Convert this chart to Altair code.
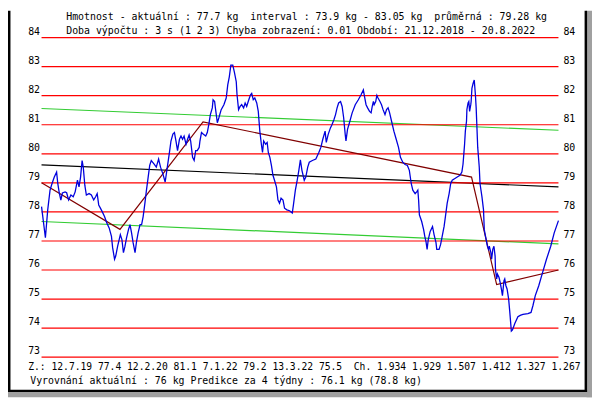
import altair as alt
import pandas as pd

# ---- blue series: day offset since 21.12.2018, weight in kg ----
day_offset = [
    0, 10, 16, 22, 27, 33, 39, 42, 46, 50,
    54, 61, 65, 70, 76, 82, 87, 93, 97, 101,
    105, 108, 112, 116, 123, 129, 135, 140, 144, 148,
    152, 157, 163, 169, 175, 181, 184, 189, 192, 197,
    204, 208, 212, 216, 220, 225, 229, 233, 237, 242,
    246, 250, 255, 259, 263, 267, 271, 276, 280, 284,
    291, 297, 303, 308, 314, 320, 325, 331, 335, 340,
    344, 348, 352, 357, 361, 365, 369, 374, 378, 382,
    386, 391, 395, 399, 403, 408, 410, 414, 419, 425,
    429, 433, 437, 442, 444, 448, 450, 455, 459, 465,
    472, 478, 482, 486, 490, 495, 499, 504, 506, 510,
    514, 518, 523, 527, 531, 535, 538, 541, 544, 548,
    552, 557, 561, 565, 569, 572, 575, 580, 584, 587,
    591, 595, 599, 603, 608, 612, 616, 620, 625, 629,
    635, 642, 649, 652, 657, 661, 666, 670, 674, 680,
    684, 689, 693, 701, 710, 718, 723, 728, 734, 737,
    742, 748, 752, 757, 761, 765, 769, 774, 778, 782,
    786, 788, 792, 797, 804, 812, 820, 827, 833, 836,
    840, 844, 849, 853, 856, 859, 861, 865, 868, 871,
    876, 880, 884, 889, 893, 897, 901, 906, 912, 918,
    924, 929, 935, 941, 947, 952, 957, 961, 967, 971,
    974, 976, 978, 984, 989, 992, 995, 998, 1001, 1006,
    1012, 1016, 1021, 1023, 1029, 1033, 1037, 1042, 1046, 1050,
    1055, 1059, 1063, 1069, 1076, 1083, 1088, 1091, 1093, 1095,
    1097, 1100, 1101, 1104, 1106, 1108, 1111, 1112, 1114, 1117,
    1120, 1123, 1125, 1127, 1129, 1133, 1135, 1140, 1144, 1146,
    1150, 1154, 1157, 1159, 1163, 1165, 1168, 1171, 1174, 1175,
    1178, 1180, 1184, 1187, 1191, 1193, 1197, 1199, 1202, 1205,
    1209, 1212, 1216, 1219, 1225, 1233, 1239, 1246, 1259, 1267,
    1272, 1278, 1287, 1297, 1307, 1318, 1327, 1338,
]
weight_kg = [
    78.18, 77.11, 78.07, 78.75, 78.97, 79.20, 79.37, 78.98, 78.65, 78.41,
    78.65, 78.69, 78.66, 78.41, 78.58, 78.52, 78.69, 79.09, 78.86, 79.20,
    79.77, 79.54, 78.92, 78.58, 78.63, 78.58, 78.41, 78.52, 78.63, 78.24,
    78.14, 78.01, 77.84, 77.62, 77.45, 77.16, 76.77, 76.37, 76.48, 76.82,
    77.22, 77.05, 76.60, 76.82, 77.11, 77.39, 77.56, 77.28, 76.94, 76.60,
    76.99, 77.28, 77.56, 77.56, 77.84, 78.24, 78.69, 79.20, 79.60, 79.77,
    79.65, 79.54, 79.82, 79.54, 79.31, 79.03, 79.49, 80.04, 80.44, 80.68,
    80.73, 80.44, 80.11, 80.50, 80.61, 80.50, 80.61, 80.33, 80.50, 80.65,
    80.44, 79.88, 79.77, 80.11, 80.11, 80.22, 80.44, 80.73, 80.67, 80.61,
    80.73, 81.01, 81.35, 81.58, 81.86, 81.80, 81.58, 81.07, 81.24, 81.52,
    81.69, 81.92, 82.37, 82.65, 83.05, 83.05, 82.82, 82.48, 82.03, 81.52,
    81.63, 81.69, 81.58, 81.75, 81.63, 81.80, 81.92, 82.03, 82.08, 81.86,
    81.92, 81.75, 81.46, 80.78, 80.33, 80.05, 80.44, 80.33, 80.39, 80.05,
    79.88, 79.60, 79.26, 79.09, 78.86, 78.41, 78.30, 78.47, 78.41, 78.13,
    78.07, 78.04, 77.96, 78.24, 78.75, 79.03, 79.43, 79.79, 79.43, 79.09,
    79.20, 79.54, 79.71, 79.77, 79.82, 80.05, 80.22, 80.50, 80.78, 80.39,
    80.67, 80.90, 81.01, 81.18, 81.35, 81.58, 81.75, 81.80, 81.63, 81.24,
    80.67, 80.44, 80.84, 81.07, 81.41, 81.69, 81.86, 82.03, 82.20, 81.97,
    81.69, 81.58, 81.46, 81.41, 81.63, 81.80, 81.69, 81.80, 82.01, 81.92,
    81.80, 81.69, 81.52, 81.35, 81.52, 81.58, 81.41, 81.12, 80.78, 80.50,
    80.22, 79.88, 79.71, 79.63, 79.60, 79.43, 78.97, 78.75, 78.63, 78.69,
    78.75, 78.41, 77.90, 77.67, 77.39, 77.16, 76.99, 76.71, 77.05, 77.33,
    77.50, 77.22, 76.94, 76.71, 76.71, 76.88, 77.16, 77.50, 77.90, 78.30,
    78.63, 78.97, 79.09, 79.14, 79.20, 79.26, 79.37, 79.65, 79.99, 80.33,
    80.78, 81.12, 81.52, 81.75, 81.80, 81.46, 81.69, 81.80, 82.25, 82.42,
    82.54, 82.03, 81.58, 80.90, 80.22, 79.54, 78.97, 78.52, 78.07, 77.39,
    77.11, 76.82, 76.71, 76.82, 76.60, 76.37, 76.71, 76.82, 76.48, 76.03,
    75.69, 75.86, 75.75, 75.58, 75.29, 75.12, 75.63, 75.69, 75.46, 75.35,
    75.01, 74.56, 73.90, 73.94, 74.16, 74.39, 74.44, 74.47, 74.50, 74.54,
    74.78, 75.12, 75.46, 75.92, 76.37, 76.82, 77.28, 77.70,
]

# ---- regression / band lines (start and end of period) ----
trend_day = [0, 1338]
band_upper = [81.56, 80.81]
band_lower = [77.67, 76.90]
mean_trend = [79.62, 78.86]

# ---- smoothed zig-zag (Z.: vertices) ----
zig_day = [0, 203, 418, 1113, 1178, 1338]
zig_kg = [79.0, 77.4, 81.1, 79.2, 75.5, 76.0]

# ---- horizontal grid / axis labels ----
grid_kg = list(range(73, 85))
grid_labels = [str(v) for v in grid_kg]

def keep_spaces(s):
    return s.replace("  ", " \u00a0")

line1 = keep_spaces("Hmotnost - aktuální : 77.7 kg  interval : 73.9 kg - 83.05 kg  průměrná : 79.28 kg")
line2 = "Doba výpočtu : 3 s (1 2 3) Chyba zobrazení: 0.01 Období: 21.12.2018 - 20.8.2022"
line3 = keep_spaces("Z.: 12.7.19 77.4 12.2.20 81.1 7.1.22 79.2 13.3.22 75.5  Ch. 1.934 1.929 1.507 1.412 1.327 1.267")
line4 = "Vyrovnání aktuální : 76 kg Predikce za 4 týdny : 76.1 kg (78.8 kg)"

FONT = "DejaVu Sans Mono"

xs = alt.Scale(domain=[0, 1338], range=[34, 558], nice=False, zero=False)
ys = alt.Scale(domain=[73, 84], range=[351.3, 27.3], nice=False, zero=False)

X = alt.X("day:Q", scale=xs, axis=None)
Y = alt.Y("kg:Q", scale=ys, axis=None)

def series(days, vals, color, width):
    df = pd.DataFrame({"day": days, "kg": vals})
    return alt.Chart(df).mark_line(color=color, strokeWidth=width).encode(x=X, y=Y)

grid_df = pd.DataFrame({"kg": grid_kg, "label": grid_labels})
dummy = pd.DataFrame({"a": [0]})

def rect(x1, x2, y1, y2, color):
    return alt.Chart(dummy).mark_rect(color=color).encode(
        x=alt.value(x1), x2=alt.value(x2), y=alt.value(y1), y2=alt.value(y2))

def text_line(s, x, y, size):
    return alt.Chart(pd.DataFrame({"t": [s]})).mark_text(
        align="left", baseline="alphabetic", font=FONT, fontSize=size, color="black"
    ).encode(x=alt.value(x), y=alt.value(y), text="t:N")

green_u = series(trend_day, band_upper, "#33cc33", 1.2)
green_l = series(trend_day, band_lower, "#33cc33", 1.2)
black_l = series(trend_day, mean_trend, "#000000", 1.2)

grid = alt.Chart(grid_df).mark_rule(color="#ff0000", strokeWidth=1.2).encode(
    y=Y, x=alt.value(34), x2=alt.value(558))

left_lab = alt.Chart(grid_df).mark_text(
    align="right", baseline="alphabetic", dy=-3, font=FONT, fontSize=10, color="black"
).encode(y=Y, x=alt.value(32.5), text="label:N")
right_lab = alt.Chart(grid_df).mark_text(
    align="left", baseline="alphabetic", dy=-3, font=FONT, fontSize=10, color="black"
).encode(y=Y, x=alt.value(563), text="label:N")

zig = series(zig_day, zig_kg, "#800000", 1.2)
blue = series(day_offset, weight_kg, "#0000dd", 1.3)

frame = [
    rect(586.5, 592, 0, 392, "#a0a0a0"),
    rect(0, 592, 386.7, 392, "#a0a0a0"),
    rect(584.5, 587, 0, 386.7, "#000000"),
    rect(0, 587, 384.2, 386.7, "#000000"),
    rect(0, 2.5, 0, 386.7, "#000000"),
]

texts = [
    text_line(line1, 59, 9.5, 10),
    text_line(line2, 59, 23.7, 10),
    text_line(line3, 20.5, 364.5, 9.8),
    text_line(line4, 22.5, 378, 10),
]

chart = alt.layer(
    green_u, green_l, black_l, grid, zig, blue, left_lab, right_lab, *texts, *frame
).properties(
    width=592, height=392, padding=0,
    autosize=alt.AutoSizeParams(type="none"),
    background="white",
).configure_view(strokeWidth=0)

chart.save("out.html", embed_options={"renderer": "svg", "actions": False})
